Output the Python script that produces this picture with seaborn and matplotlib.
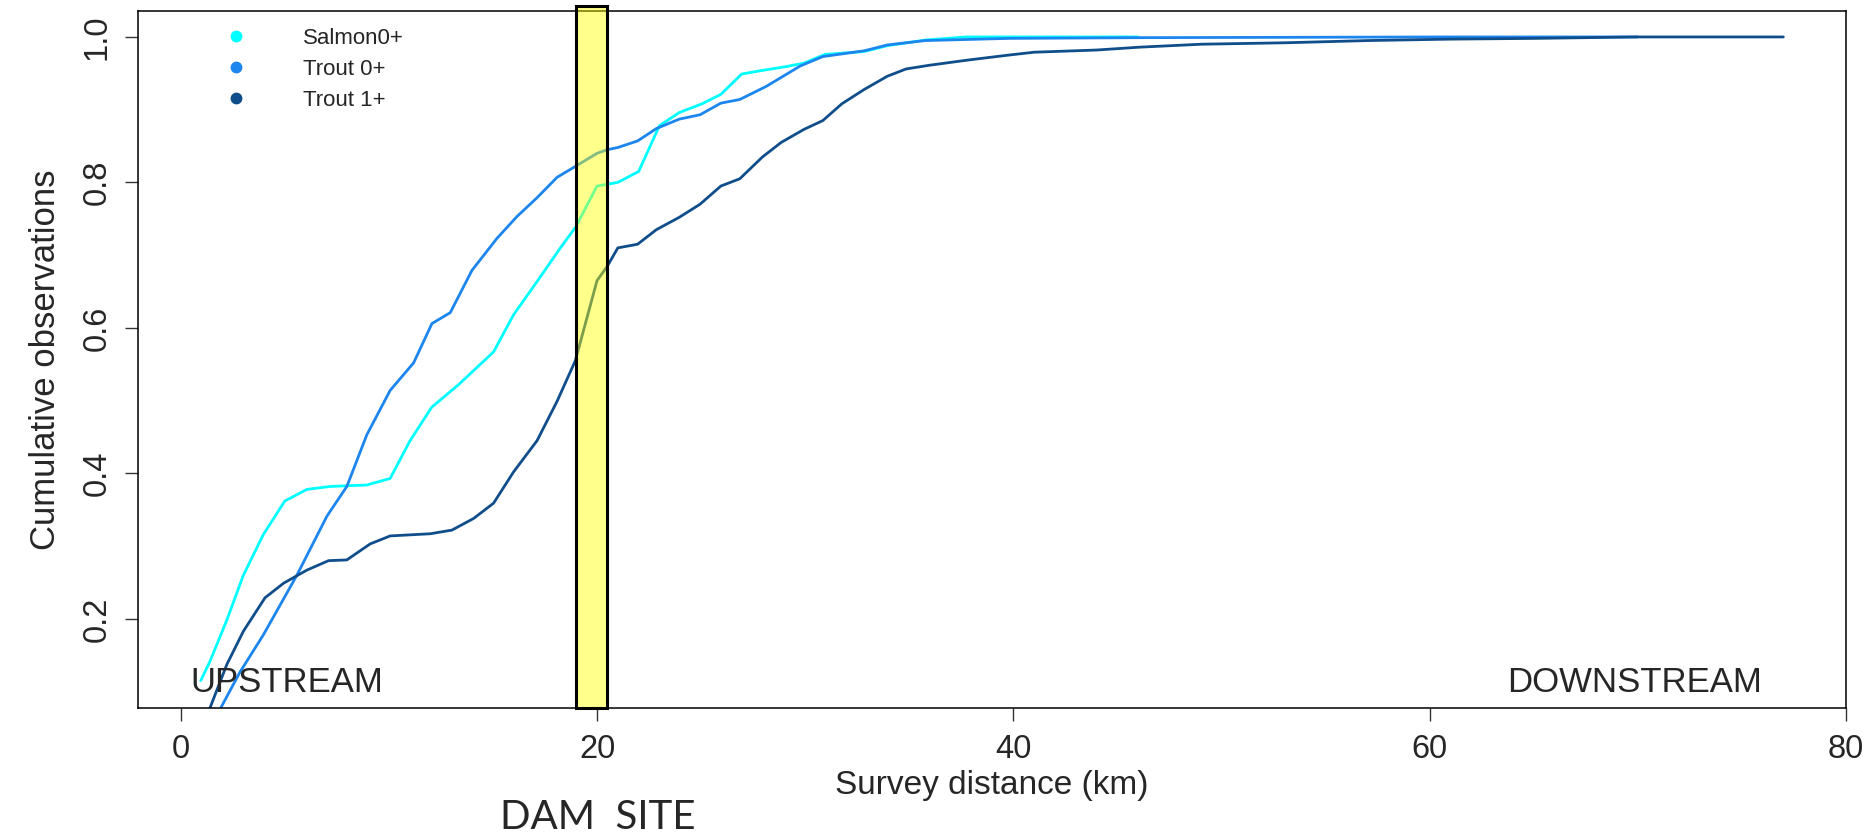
import numpy as np
import pandas as pd
import matplotlib
matplotlib.use("Agg")
import matplotlib.pyplot as plt
import seaborn as sns
from matplotlib.patches import Rectangle
from matplotlib.lines import Line2D

# values
salmon_km = [0.96, 1.41, 2.21, 3.01, 3.97, 5.0, 6.06, 7.18, 8.94, 10.06, 11.02, 12.06,
             13.35, 15.03, 15.99, 17.2, 18.24, 18.96, 20.0, 21.0, 22.0, 23.0, 23.95,
             25.04, 25.95, 26.95, 27.95, 29.04, 29.95, 30.95, 32.85, 33.95, 35.85,
             37.76, 46.0]
salmon_cum = [0.115, 0.142, 0.198, 0.26, 0.316, 0.362, 0.378, 0.382, 0.384, 0.393,
              0.445, 0.491, 0.522, 0.567, 0.618, 0.667, 0.71, 0.738, 0.795, 0.80,
              0.815, 0.878, 0.896, 0.908, 0.921, 0.949, 0.954, 0.959, 0.964, 0.976,
              0.98, 0.988, 0.996, 1.0, 1.0]

trout0_km = [1.5, 2.85, 3.97, 5.58, 7.02, 7.98, 8.94, 10.06, 11.19, 12.07, 12.95,
             13.99, 15.19, 16.15, 17.12, 18.08, 18.96, 20.0, 20.5, 21.0, 21.95,
             22.85, 23.95, 24.95, 25.95, 26.86, 28.13, 29.76, 30.85, 32.85, 33.95,
             35.76, 39.76, 46.0, 61.0, 70.0]
trout0_cum = [0.055, 0.127, 0.178, 0.26, 0.341, 0.382, 0.453, 0.514, 0.552, 0.606,
              0.621, 0.679, 0.723, 0.753, 0.779, 0.807, 0.822, 0.840, 0.845, 0.848,
              0.857, 0.874, 0.887, 0.893, 0.909, 0.914, 0.932, 0.96, 0.973, 0.981,
              0.989, 0.995, 0.998, 0.999, 1.0, 1.0]

trout1_km = [1.1, 2.21, 3.01, 4.05, 4.94, 6.06, 7.1, 7.98, 9.1, 10.06, 11.99, 13.03,
             14.07, 15.03, 15.99, 17.12, 18.08, 18.96, 20.0, 20.5, 21.0, 21.95,
             22.85, 23.95, 24.95, 25.95, 26.86, 27.95, 28.85, 29.95, 30.85, 31.76,
             32.85, 33.95, 34.85, 35.95, 37.76, 39.76, 41.0, 44.0, 46.1, 49.05,
             53.1, 57.0, 61.0, 65.0, 70.0, 77.0]
trout1_cum = [0.055, 0.137, 0.183, 0.229, 0.249, 0.267, 0.28, 0.281, 0.303, 0.314,
              0.317, 0.322, 0.338, 0.359, 0.402, 0.445, 0.499, 0.555, 0.665, 0.685,
              0.71, 0.715, 0.735, 0.752, 0.77, 0.795, 0.805, 0.835, 0.855, 0.873,
              0.885, 0.908, 0.928, 0.946, 0.956, 0.961, 0.968, 0.975, 0.979, 0.982,
              0.986, 0.990, 0.992, 0.995, 0.997, 0.998, 1.0, 1.0]

groups = ["Salmon0+", "Trout 0+", "Trout 1+"]
colors = {"Salmon0+": "#00FFFF", "Trout 0+": "#1C86EE", "Trout 1+": "#104E8B"}
x_ticks = [0, 20, 40, 60, 80]
y_ticks = [0.2, 0.4, 0.6, 0.8, 1.0]
dam_km = (19.0, 20.5)

df = pd.concat([
    pd.DataFrame({"km": salmon_km, "cum": salmon_cum, "group": "Salmon0+"}),
    pd.DataFrame({"km": trout0_km, "cum": trout0_cum, "group": "Trout 0+"}),
    pd.DataFrame({"km": trout1_km, "cum": trout1_cum, "group": "Trout 1+"}),
], ignore_index=True)

sns.set_style("ticks")
plt.rcParams["font.family"] = ["Liberation Sans", "DejaVu Sans"]

fig = plt.figure(figsize=(18.76, 8.32), dpi=100)
ax = fig.add_axes([0.0736, 0.149, 0.9103, 0.8372])

sns.lineplot(data=df, x="km", y="cum", hue="group", hue_order=groups,
             palette=colors, sort=False, estimator=None, linewidth=2.0,
             legend=False, ax=ax)

ylo, yhi = 0.0774, 1.035
ax.set_xlim(-2.05, 80.0)
ax.set_ylim(ylo, yhi)

# dam site band
ax.add_patch(Rectangle((dam_km[0], ylo), dam_km[1] - dam_km[0], 1.043 - ylo,
                       facecolor=(1, 1, 0, 0.45), edgecolor="black",
                       linewidth=2.2, clip_on=False, zorder=5))

ax.set_xticks(x_ticks)
ax.set_xticklabels([str(v) for v in x_ticks])
ax.set_yticks(y_ticks)
ax.set_yticklabels([f"{v:.1f}" for v in y_ticks], rotation=90, va="center")
ax.tick_params(axis="both", labelsize=23.5, length=9.5, width=1.0, color="#333333",
               pad=9)
for s in ax.spines.values():
    s.set_linewidth(1.1)
    s.set_color("black")
    s.set_visible(True)

ax.set_xlabel("Survey distance (km)", fontsize=24, labelpad=4)
ax.set_ylabel("Cumulative observations", fontsize=25, labelpad=14)

ax.text(0.48, 0.1, "UPSTREAM", fontsize=25, ha="left", va="baseline")
ax.text(75.95, 0.1, "DOWNSTREAM", fontsize=25, ha="right", va="baseline")

handles = [Line2D([], [], marker="o", ls="none", color=colors[g], markersize=7.5)
           for g in groups]
ax.legend(handles, groups, loc="upper left", frameon=False, fontsize=16,
          handlelength=1.0, handletextpad=2.5, labelspacing=0.45, borderpad=0,
          borderaxespad=0, bbox_to_anchor=(225 / 1876, 1 - 28 / 832),
          bbox_transform=fig.transFigure)

fig.text(598 / 1876, 0.004, "DAM  SITE", fontsize=29, ha="center", va="baseline",
         family=["Lato", "DejaVu Sans"])

fig.savefig("out.png", dpi=100)
